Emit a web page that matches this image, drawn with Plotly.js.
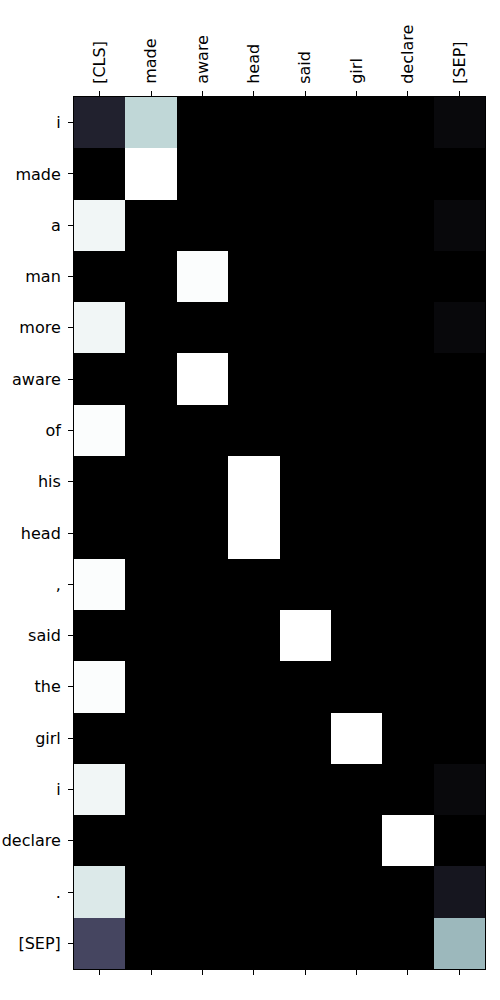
<!DOCTYPE html>
<html>
<head>
<meta charset="utf-8">
<script src="https://cdn.plot.ly/plotly-3.0.1.min.js"></script>
<style>html,body{margin:0;padding:0;background:#fff;}#chart{width:500px;height:1000px;}</style>
</head>
<body>
<div id="chart"></div>
<script>
const colLabels = ["[CLS]", "made", "aware", "head", "said", "girl", "declare", "[SEP]"];
const rowLabels = ["i", "made", "a", "man", "more", "aware", "of", "his", "head", ",", "said", "the", "girl", "i", "declare", ".", "[SEP]"];

// attention weights, one array per row (columns follow colLabels)
const row_i1      = [0.15, 0.82, 0, 0, 0, 0, 0, 0.04];
const row_made    = [0, 1, 0, 0, 0, 0, 0, 0];
const row_a       = [0.96, 0, 0, 0, 0, 0, 0, 0.035];
const row_man     = [0, 0, 0.99, 0, 0, 0, 0, 0];
const row_more    = [0.96, 0, 0, 0, 0, 0, 0, 0.035];
const row_aware   = [0, 0, 1, 0, 0, 0, 0, 0];
const row_of      = [0.99, 0, 0, 0, 0, 0, 0, 0];
const row_his     = [0, 0, 0, 1, 0, 0, 0, 0];
const row_head    = [0, 0, 0, 1, 0, 0, 0, 0];
const row_comma   = [0.99, 0, 0, 0, 0, 0, 0, 0];
const row_said    = [0, 0, 0, 0, 1, 0, 0, 0];
const row_the     = [0.99, 0, 0, 0, 0, 0, 0, 0];
const row_girl    = [0, 0, 0, 0, 0, 1, 0, 0];
const row_i2      = [0.96, 0, 0, 0, 0, 0, 0, 0.04];
const row_declare = [0, 0, 0, 0, 0, 0, 1, 0];
const row_period  = [0.90, 0, 0, 0, 0, 0, 0, 0.10];
const row_sep     = [0.31, 0, 0, 0, 0, 0, 0, 0.70];

const z = [row_i1, row_made, row_a, row_man, row_more, row_aware, row_of, row_his,
           row_head, row_comma, row_said, row_the, row_girl, row_i2, row_declare, row_period, row_sep];

const xIdx = colLabels.map((_, i) => i);
const yIdx = rowLabels.map((_, i) => i);

// matplotlib "bone" colormap
const bone = [
  [0, "rgb(0,0,0)"],
  [0.365079, "rgb(81,81,113)"],
  [0.746032, "rgb(166,198,198)"],
  [1, "rgb(255,255,255)"]
];

const font = {family: "DejaVu Sans", size: 16, color: "#000"};

const traces = [
  {
    type: "heatmap",
    x: xIdx, y: yIdx, z: z,
    colorscale: bone, zmin: 0, zmax: 1,
    showscale: false, xgap: 0, ygap: 0,
    hoverinfo: "skip"
  },
  {
    type: "scatter", x: [], y: [], xaxis: "x2", yaxis: "y",
    showlegend: false, hoverinfo: "skip"
  }
];

const layout = {
  width: 500, height: 1000,
  margin: {l: 74, r: 15, t: 97, b: 31, pad: 0},
  paper_bgcolor: "#fff", plot_bgcolor: "#fff",
  font: font,
  showlegend: false,
  xaxis: {
    side: "top", range: [-0.5, 7.5],
    tickmode: "array", tickvals: xIdx, ticktext: colLabels,
    tickangle: -90, ticks: "outside", ticklen: 5, tickwidth: 1, tickcolor: "#000",
    showline: true, linecolor: "#000", linewidth: 1, mirror: false,
    showgrid: false, zeroline: false, fixedrange: true,
    tickfont: font, ticklabelstandoff: 4
  },
  xaxis2: {
    overlaying: "x", side: "bottom", range: [-0.5, 7.5],
    tickmode: "array", tickvals: xIdx, showticklabels: false,
    ticks: "outside", ticklen: 5, tickwidth: 1, tickcolor: "#000",
    showline: true, linecolor: "#000", linewidth: 1,
    showgrid: false, zeroline: false
  },
  yaxis: {
    range: [16.5, -0.5],
    tickmode: "array", tickvals: yIdx, ticktext: rowLabels,
    ticks: "outside", ticklen: 5, tickwidth: 1, tickcolor: "#000",
    showline: true, linecolor: "#000", linewidth: 1, mirror: true,
    showgrid: false, zeroline: false,
    tickfont: font, ticklabelstandoff: 4
  }
};

Plotly.newPlot("chart", traces, layout, {displayModeBar: false, staticPlot: true});
</script>
</body>
</html>
